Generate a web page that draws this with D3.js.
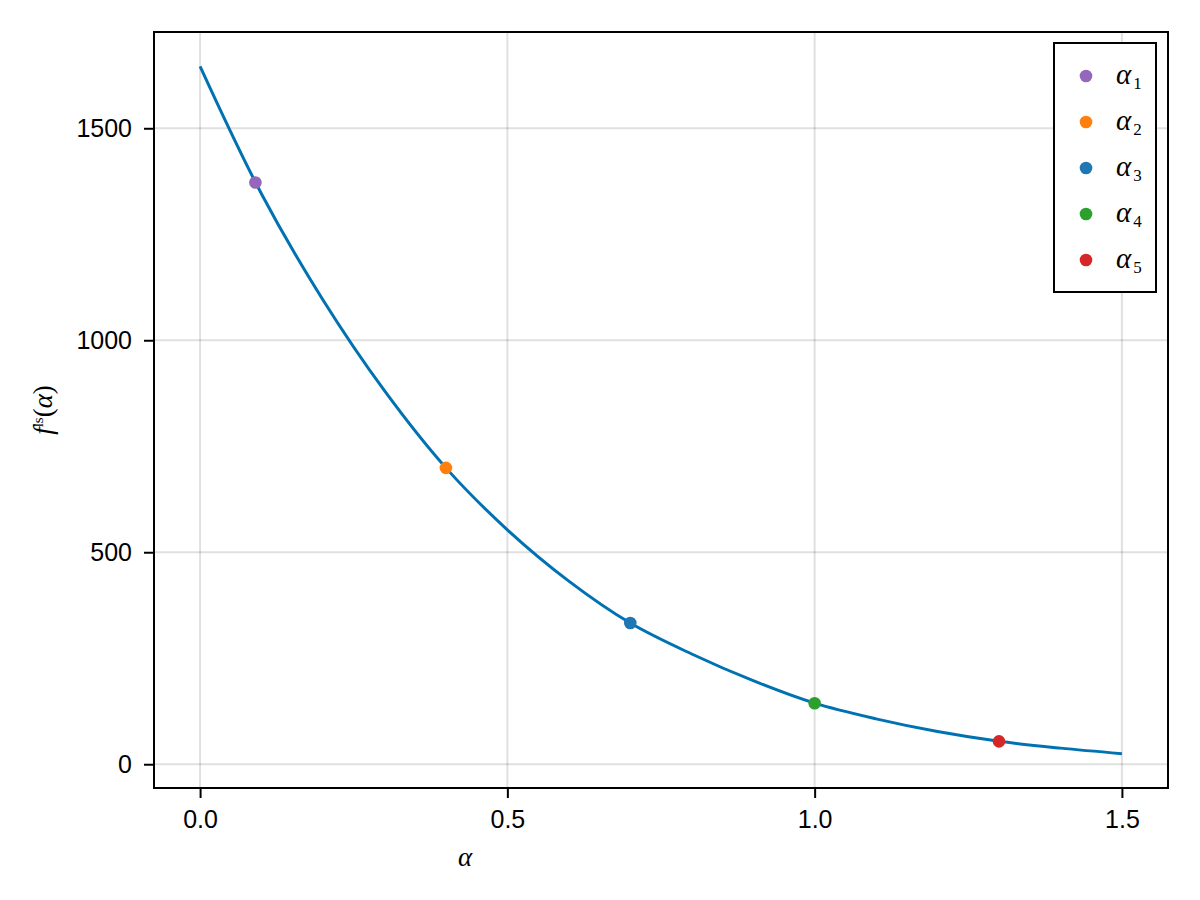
<!DOCTYPE html>
<html>
<head>
<meta charset="utf-8">
<script src="https://cdn.jsdelivr.net/npm/d3@7"></script>
<style>
  body { margin: 0; background: #fff; }
  svg { display: block; }
</style>
</head>
<body>
<div id="chart"></div>
<script>
// Curve samples
var alphaSamples = [0.0, 0.1, 0.2, 0.3, 0.4, 0.5, 0.6, 0.7, 0.8, 0.9, 1.0, 1.1, 1.2, 1.3, 1.4, 1.5];
var fSamples     = [1646, 1345, 1095, 881, 699, 553, 432, 333, 260, 197, 144, 107, 77, 54, 38, 25];

// Highlighted points
var pointLabels = ["1", "2", "3", "4", "5"];
var pointAlpha  = [0.09, 0.4, 0.7, 1.0, 1.3];
var pointF      = [1372, 699, 333, 144, 54];
var pointColors = ["#9467bd", "#ff7f0e", "#1f77b4", "#2ca02c", "#d62728"];

var xTicks = [0.0, 0.5, 1.0, 1.5];
var yTicks = [0, 500, 1000, 1500];

var W = 1200, H = 900;
var margin = {top: 32, right: 32, bottom: 112, left: 154};
var width = W - margin.left - margin.right,
    height = H - margin.top - margin.bottom;

var svg = d3.select("#chart").append("svg")
    .attr("width", W)
    .attr("height", H);

var g = svg.append("g")
    .attr("transform", "translate(" + margin.left + "," + margin.top + ")");

// 5% padding like the original
var xExt = d3.extent(alphaSamples), yExt = d3.extent(fSamples);
var xPad = (xExt[1] - xExt[0]) * 0.05, yPad = (yExt[1] - yExt[0]) * 0.05;

var x = d3.scaleLinear()
    .domain([xExt[0] - xPad, xExt[1] + xPad])
    .range([0, width]);
var y = d3.scaleLinear()
    .domain([yExt[0] - yPad, yExt[1] + yPad])
    .range([height, 0]);

// grid
g.append("g").selectAll("line").data(xTicks).join("line")
    .attr("x1", d => x(d)).attr("x2", d => x(d))
    .attr("y1", 0).attr("y2", height)
    .attr("stroke", "rgba(0,0,0,0.12)").attr("stroke-width", 2);
g.append("g").selectAll("line").data(yTicks).join("line")
    .attr("y1", d => y(d)).attr("y2", d => y(d))
    .attr("x1", 0).attr("x2", width)
    .attr("stroke", "rgba(0,0,0,0.12)").attr("stroke-width", 2);

// axes
var xAxis = g.append("g")
    .attr("transform", "translate(0," + height + ")")
    .call(d3.axisBottom(x).tickValues(xTicks).tickFormat(d3.format(".1f")).tickSize(10).tickPadding(12));
var yAxis = g.append("g")
    .call(d3.axisLeft(y).tickValues(yTicks).tickFormat(d3.format("d")).tickSize(10).tickPadding(12));

[xAxis, yAxis].forEach(function(a) {
  a.select(".domain").remove();
  a.selectAll(".tick line").attr("stroke", "#000").attr("stroke-width", 2);
  a.selectAll(".tick text")
    .attr("fill", "#000")
    .style("font-family", "'Liberation Sans', Arial, sans-serif")
    .style("font-size", "25px");
});

// line
var line = d3.line()
    .x((d, i) => x(alphaSamples[i]))
    .y(d => y(d))
    .curve(d3.curveCatmullRom);

g.append("path")
    .datum(fSamples)
    .attr("fill", "none")
    .attr("stroke", "#0072b2")
    .attr("stroke-width", 3)
    .attr("d", line);

// points
g.append("g").selectAll("circle").data(pointF).join("circle")
    .attr("cx", (d, i) => x(pointAlpha[i]))
    .attr("cy", d => y(d))
    .attr("r", 6.3)
    .attr("fill", (d, i) => pointColors[i]);

// frame
g.append("rect")
    .attr("width", width).attr("height", height)
    .attr("fill", "none").attr("stroke", "#000").attr("stroke-width", 2);

// axis labels
var mathFont = "'Liberation Serif', 'DejaVu Serif', serif";
svg.append("text")
    .attr("x", 465)
    .attr("y", 866)
    .attr("text-anchor", "middle")
    .style("font-family", mathFont).style("font-style", "italic").style("font-size", "27px")
    .text("α");

var yl = svg.append("text")
    .attr("transform", "translate(52,410) rotate(-90)")
    .attr("text-anchor", "middle")
    .style("font-family", mathFont).style("font-size", "27px");
yl.append("tspan").style("font-style", "italic").text("f");
yl.append("tspan").attr("dy", -9).style("font-size", "15px").text("ls");
yl.append("tspan").attr("dy", 9).text("(");
yl.append("tspan").style("font-style", "italic").text("α");
yl.append("tspan").text(")");

// legend
var legend = svg.append("g").attr("transform", "translate(1054,43)");
legend.append("rect")
    .attr("width", 102).attr("height", 249)
    .attr("fill", "#fff").attr("stroke", "#000").attr("stroke-width", 2);

var items = legend.selectAll("g.item").data(pointLabels).join("g")
    .attr("class", "item")
    .attr("transform", (d, i) => "translate(0," + (33 + i * 46) + ")");
items.append("circle")
    .attr("cx", 32).attr("cy", 0).attr("r", 6.3)
    .attr("fill", (d, i) => pointColors[i]);
var lt = items.append("text")
    .attr("x", 62).attr("y", 8)
    .style("font-family", mathFont).style("font-size", "29px");
lt.append("tspan").style("font-style", "italic").text("α");
lt.append("tspan").attr("dx", 2).attr("dy", 5).style("font-size", "17px").text(d => d);
</script>
</body>
</html>
